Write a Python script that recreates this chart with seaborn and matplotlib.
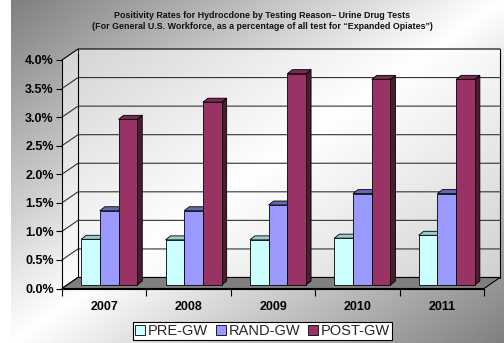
import numpy as np
import pandas as pd
import matplotlib
matplotlib.use("Agg")
import matplotlib.pyplot as plt
import matplotlib.transforms as mtransforms
from matplotlib.patches import Polygon, Patch, Rectangle
from matplotlib.ticker import FuncFormatter, MultipleLocator
import seaborn as sns

# ---- data (percent of "Expanded Opiates" tests) ----
years = ["2007", "2008", "2009", "2010", "2011"]
reasons = ["PRE-GW", "RAND-GW", "POST-GW"]
pre_gw = [0.80, 0.79, 0.79, 0.82, 0.87]
rand_gw = [1.30, 1.30, 1.40, 1.60, 1.60]
post_gw = [2.90, 3.20, 3.70, 3.60, 3.60]
y_ticks = [0.0, 0.5, 1.0, 1.5, 2.0, 2.5, 3.0, 3.5, 4.0]

title = ("Positivity Rates for Hydrocdone by Testing Reason\u2013 Urine Drug Tests\n"
         "(For General U.S. Workforce, as a percentage of all test for \u201cExpanded Opiates\u201d)")

front_colors = {"PRE-GW": "#CCFFFF", "RAND-GW": "#9999FF", "POST-GW": "#993366"}
top_colors = {"PRE-GW": "#99CCCC", "RAND-GW": "#6666B8", "POST-GW": "#7A2952"}
side_colors = {"PRE-GW": "#669999", "RAND-GW": "#4D4D99", "POST-GW": "#4D1A33"}

df = pd.DataFrame({
    "year": np.repeat(years, len(reasons)),
    "reason": reasons * len(years),
    "rate": [v for trio in zip(pre_gw, rand_gw, post_gw) for v in trio],
})

sns.set_theme(style="white")
plt.rcParams["font.family"] = ["Liberation Sans", "DejaVu Sans"]

W, H = 504, 343
fig = plt.figure(figsize=(W / 100, H / 100), dpi=100, facecolor="white")

# diagonal grey-white-grey backdrop panel (white margin on the left)
panel_x = 11
bg = fig.add_axes([panel_x / W, 0, 1 - panel_x / W, 1], zorder=0)
xx, yy = np.meshgrid(np.linspace(0, 1, 400), np.linspace(0, 1, 300))
t = (xx + yy) / 2
shade = np.where(t < 0.5, 0.50 + (1.0 - 0.50) * (t / 0.5),
                 1.0 - (1.0 - 0.50) * ((t - 0.5) / 0.5))
bg.imshow(shade, cmap="gray", vmin=0, vmax=1, extent=[0, 1, 0, 1], aspect="auto",
          interpolation="bilinear")
bg.axis("off")

# front plane of the 3-D box
x0_px, x1_px = 62, 484
y0_px, y4_px = 288.5, 60
ax = fig.add_axes([x0_px / W, (H - y0_px) / H, (x1_px - x0_px) / W, (y0_px - y4_px) / H], zorder=1)
ax.patch.set_visible(False)

sns.barplot(data=df, x="year", y="rate", hue="reason", hue_order=reasons,
            palette=front_colors, saturation=1, width=0.665, gap=0,
            edgecolor="black", linewidth=0.6, legend=False, ax=ax)
bars = sorted([p for p in ax.patches if isinstance(p, Rectangle)], key=lambda p: p.get_x())

ax.set_xlim(-0.5, len(years) - 0.5)
ax.set_ylim(0, 4.0)
ax.set_xlabel("")
ax.set_ylabel("")
for side in ("top", "right"):
    ax.spines[side].set_visible(False)
for side in ("left", "bottom"):
    ax.spines[side].set_color("black")
    ax.spines[side].set_linewidth(0.8)

ax.set_yticks(y_ticks)
ax.yaxis.set_major_formatter(FuncFormatter(lambda v, p: f"{v:.1f}%"))
ax.tick_params(axis="y", direction="out", length=4, width=0.8, color="black", pad=2,
               labelsize=9, left=True)
ax.set_xticks(range(len(years)))
ax.set_xticklabels(years)
ax.xaxis.set_minor_locator(MultipleLocator(1, offset=0.5))
ax.tick_params(axis="x", which="major", length=0, pad=9, labelsize=9)
ax.tick_params(axis="x", which="minor", direction="out", length=5, width=0.8,
               color="black", bottom=True)
for lab in ax.get_xticklabels() + ax.get_yticklabels():
    lab.set_fontweight("bold")
    lab.set_color("black")

ident = mtransforms.IdentityTransform()
fig.canvas.draw()


def disp(x, y, dx=0.0, dy=0.0):
    px, py = ax.transData.transform((x, y))
    return (px + dx, py + dy)


# depth offsets in pixels (right, up)
wall_dx, wall_dy = 16, 11
bar_f = (5, 3.5)
bar_b = (10, 7.5)
xl, xr = ax.get_xlim()

# side wall + back wall
wall = Polygon([disp(xl, 0), disp(xl, 0, wall_dx, wall_dy), disp(xr, 0, wall_dx, wall_dy),
                disp(xr, 4, wall_dx, wall_dy), disp(xl, 4, wall_dx, wall_dy), disp(xl, 4)],
               closed=True, transform=ident, facecolor="white", alpha=0.55,
               edgecolor="none", clip_on=False, zorder=0.5)
ax.add_patch(wall)
for v in y_ticks:
    pts = [disp(xl, v), disp(xl, v, wall_dx, wall_dy), disp(xr, v, wall_dx, wall_dy)]
    ax.add_line(plt.Line2D([p[0] for p in pts], [p[1] for p in pts], transform=ident,
                           color="#333333" if 0 < v < 4 else "black", lw=0.8,
                           clip_on=False, zorder=0.8))
for xv in (xl, xr):
    a, b = disp(xv, 0, wall_dx, wall_dy), disp(xv, 4, wall_dx, wall_dy)
    ax.add_line(plt.Line2D([a[0], b[0]], [a[1], b[1]], transform=ident, color="black",
                           lw=0.8, clip_on=False, zorder=0.8))

# floor
floor = Polygon([disp(xl, 0), disp(xr, 0), disp(xr, 0, wall_dx, wall_dy),
                 disp(xl, 0, wall_dx, wall_dy)], closed=True, transform=ident,
                facecolor="#808080", edgecolor="black", lw=0.8, clip_on=False, zorder=1)
ax.add_patch(floor)

# bars: shift front faces into depth, add tops and sides
front_off = mtransforms.offset_copy(ax.transData, fig=fig, x=bar_f[0], y=bar_f[1], units="dots")
color_to_reason = {matplotlib.colors.to_hex(c).lower(): r for r, c in front_colors.items()}
for i, p in enumerate(bars):
    reason = color_to_reason.get(matplotlib.colors.to_hex(p.get_facecolor()).lower(), "PRE-GW")
    bx0, bw, bh = p.get_x(), p.get_width(), p.get_height()
    bx1 = bx0 + bw
    z = 2 + i * 0.01
    side_poly = Polygon([disp(bx1, 0, *bar_f), disp(bx1, bh, *bar_f),
                         disp(bx1, bh, *bar_b), disp(bx1, 0, *bar_b)], closed=True,
                        transform=ident, facecolor=side_colors[reason], edgecolor="black",
                        lw=0.6, clip_on=False, zorder=z)
    top_poly = Polygon([disp(bx0, bh, *bar_f), disp(bx1, bh, *bar_f),
                        disp(bx1, bh, *bar_b), disp(bx0, bh, *bar_b)], closed=True,
                       transform=ident, facecolor=top_colors[reason], edgecolor="black",
                       lw=0.6, clip_on=False, zorder=z)
    ax.add_patch(side_poly)
    ax.add_patch(top_poly)
    p.set_transform(front_off)
    p.set_clip_on(False)
    p.set_zorder(z + 0.005)

# title
fig.text(262 / W, 1 - 21 / H, title, ha="center", va="center", fontsize=6.4,
         fontweight="bold", color="#111111", linespacing=1.15)

# legend
handles = [Patch(facecolor=front_colors[r], edgecolor="black", linewidth=0.6, label=r)
           for r in reasons]
leg = fig.legend(handles=handles, loc="center", bbox_to_anchor=(262.5 / W, 1 - 331 / H),
                 ncol=3, fontsize=10.5, frameon=True, fancybox=False, framealpha=1,
                 edgecolor="black", handlelength=0.7, handleheight=0.7,
                 handletextpad=0.2, columnspacing=0.5, borderpad=0.12,
                 borderaxespad=0)
leg.get_frame().set_linewidth(0.8)

fig.savefig("out.png", dpi=100)
